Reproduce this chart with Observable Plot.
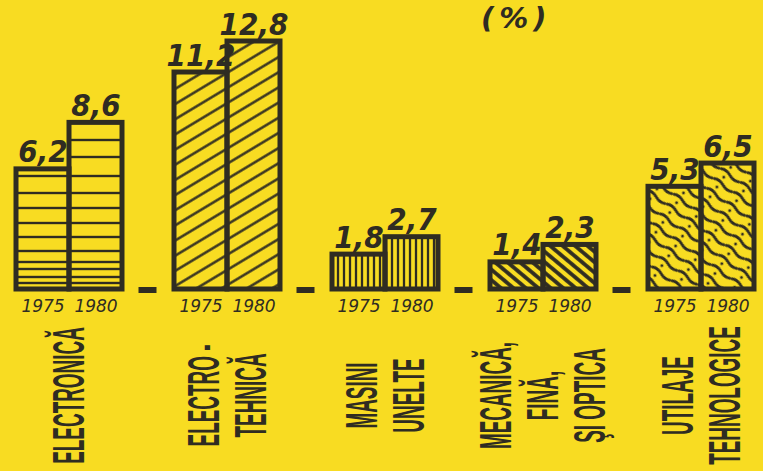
<!DOCTYPE html>
<html><head><meta charset="utf-8">
<script src="https://cdn.jsdelivr.net/npm/d3@7"></script>
<script src="https://cdn.jsdelivr.net/npm/@observablehq/plot@0.6"></script>
<style>
html,body{margin:0;padding:0;background:#f8dc22;}
#wrap{position:relative;width:763px;height:471px;overflow:hidden;background:#f8dc22;}
#pct{position:absolute;left:481px;top:4px;font:italic bold 29px "DejaVu Sans";letter-spacing:5px;color:#2f2c22;line-height:1;}
#chart{position:absolute;left:0;top:0;}
</style></head><body>
<div id="wrap"><div id="chart"></div><div id="pct">(%)</div></div>
<script>
const categories = ["ELECTRONICĂ", "ELECTRO -\nTEHNICĂ", "MASINI\nUNELTE", "MECANICĂ,\nFINĂ,\nŞI OPTICA", "UTILAJE\nTEHNOLOGICE"];
const years = ["1975", "1980"];
const v1975 = [6.2, 11.2, 1.8, 1.4, 5.3];
const v1980 = [8.6, 12.8, 2.7, 2.3, 6.5];
const patternIds = ["p-horiz", "p-diag", "p-vert", "p-back", "p-wave"];

const ink = "#2f2c22";
const data = categories.flatMap((c, i) => [
  {cat: c, year: years[0], value: v1975[i], pat: patternIds[i]},
  {cat: c, year: years[1], value: v1980[i], pat: patternIds[i]}
]);
const fmt = v => String(v).replace(".", ",");

const plot = Plot.plot({
  width: 763, height: 471,
  marginLeft: 14, marginRight: 9, marginTop: 41, marginBottom: 182,
  style: {background: "transparent", color: ink, overflow: "visible"},
  fx: {domain: categories, paddingInner: 0.325, paddingOuter: 0, axis: null},
  x: {domain: years, padding: 0, axis: null},
  y: {domain: [0, 12.8], axis: null},
  color: {type: "identity"},
  marks: [
    Plot.barY(data, {fx: "cat", x: "year", y: "value", fill: d => `url(#${d.pat})`, stroke: ink, strokeWidth: 5, insetLeft: 0, insetRight: 0}),
    Plot.text(data, {fx: "cat", x: "year", y: "value", text: d => fmt(d.value), dy: -7, lineAnchor: "bottom",
      fontSize: 31, fontWeight: "bold", fontStyle: "italic", fontFamily: "DejaVu Sans Condensed, DejaVu Sans", fill: ink}),
    Plot.text(data, {fx: "cat", x: "year", text: "year", frameAnchor: "bottom", dy: 17, lineAnchor: "middle",
      fontSize: 17, fontStyle: "italic", fontFamily: "DejaVu Sans", fill: ink}),
    Plot.text(categories, {fx: d => d, text: d => d, frameAnchor: "bottom", dy: 106, rotate: -90,
      textAnchor: "middle", lineAnchor: "middle", lineHeight: 1.07, fontSize: 44, fontWeight: "bold",
      fontFamily: "Liberation Sans, Arial, sans-serif", fill: ink})
  ]
});

document.getElementById("chart").appendChild(plot);
const svg = d3.select(plot);

// compress rotated category labels along their reading direction
svg.selectAll("text, g").each(function() {
  const tr = this.getAttribute("transform") || "";
  if (tr.includes("rotate(-90)")) this.setAttribute("transform", tr + " scale(0.43,1)");
});

// pattern definitions
const yS = plot.scale("y");
const base = yS.apply(0);
const defs = svg.insert("defs", ":first-child");
const ph = defs.append("pattern").attr("id", "p-horiz").attr("patternUnits", "userSpaceOnUse")
  .attr("width", 20).attr("height", 471);
[6, 12, 20, 27, 38, 52, 66, 81, 96, 113, 132, 149, 168].forEach(o =>
  ph.append("line").attr("x1", 0).attr("x2", 20).attr("y1", base - o).attr("y2", base - o)
    .attr("stroke", ink).attr("stroke-width", 2.4));
const pd = defs.append("pattern").attr("id", "p-diag").attr("patternUnits", "userSpaceOnUse")
  .attr("width", 20).attr("height", 13).attr("patternTransform", "rotate(-31)");
pd.append("line").attr("x1", 0).attr("x2", 20).attr("y1", 6.5).attr("y2", 6.5).attr("stroke", ink).attr("stroke-width", 2.4);
const pv = defs.append("pattern").attr("id", "p-vert").attr("patternUnits", "userSpaceOnUse")
  .attr("width", 6).attr("height", 20);
pv.append("line").attr("x1", 3).attr("x2", 3).attr("y1", 0).attr("y2", 20).attr("stroke", ink).attr("stroke-width", 2.3);
const pb = defs.append("pattern").attr("id", "p-back").attr("patternUnits", "userSpaceOnUse")
  .attr("width", 20).attr("height", 8).attr("patternTransform", "rotate(40)");
pb.append("line").attr("x1", 0).attr("x2", 20).attr("y1", 4).attr("y2", 4).attr("stroke", ink).attr("stroke-width", 3.8);
const pw = defs.append("pattern").attr("id", "p-wave").attr("patternUnits", "userSpaceOnUse")
  .attr("width", 24).attr("height", 12).attr("patternTransform", "rotate(35)");
pw.append("path").attr("d", "M0,4 Q6,1 12,4 T24,4").attr("fill", "none").attr("stroke", ink).attr("stroke-width", 2.8);
pw.append("circle").attr("cx", 8).attr("cy", 9).attr("r", 1.5).attr("fill", ink);

// short dashes on the baseline between groups
const fx = plot.scale("fx");
for (let i = 0; i < categories.length - 1; i++) {
  const a = fx.apply(categories[i]) + fx.bandwidth;
  const b = fx.apply(categories[i + 1]);
  const c = (a + b) / 2;
  svg.append("line").attr("x1", c - 9).attr("x2", c + 9).attr("y1", base + 1).attr("y2", base + 1)
    .attr("stroke", ink).attr("stroke-width", 6);
}
</script>
</body></html>
